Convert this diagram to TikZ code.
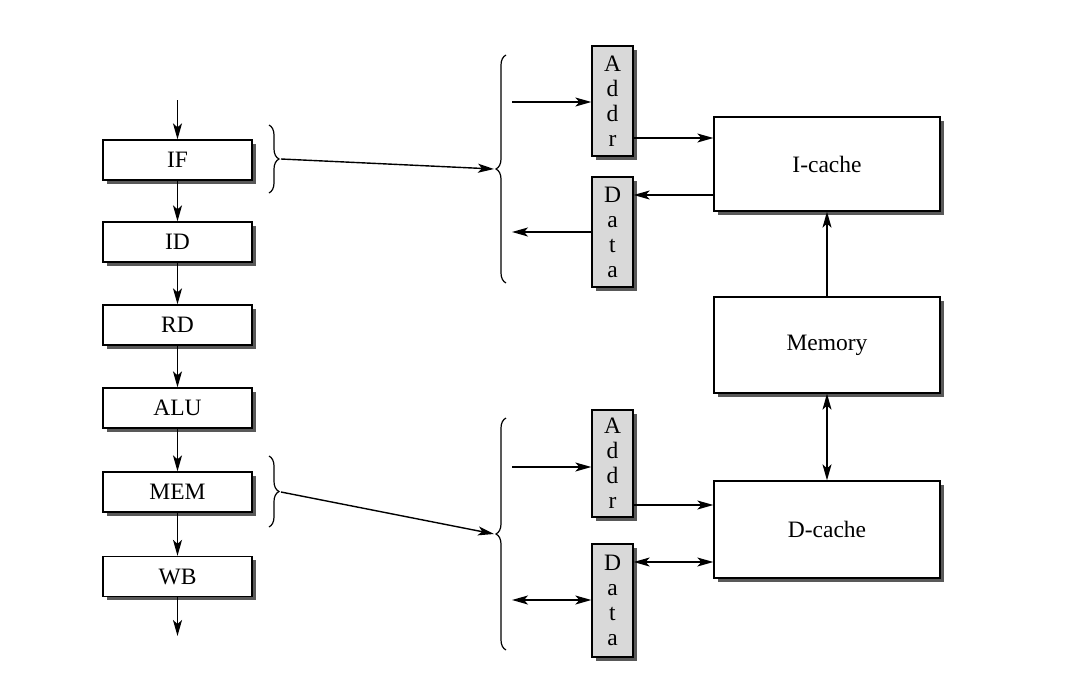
\documentclass[tikz,border=0pt]{standalone}
\usepackage{fontspec}
\setmainfont{Liberation Serif}
\usetikzlibrary{arrows.meta,shadows,decorations.pathreplacing,calc}
\begin{document}
\begin{tikzpicture}[x=1pt,y=-1pt,
  every node/.style={font=\fontsize{23.5}{25}\selectfont},
  shad/.style={drop shadow={shadow xshift=3.5pt,shadow yshift=-3.5pt,fill=black!65,opacity=1}},
  stagebox/.style={draw,line width=1.3pt,fill=white,shad,minimum width=149pt,minimum height=40pt,inner sep=0pt},
  cachebox/.style={draw,line width=1.3pt,fill=white,shad,minimum width=226pt,inner sep=0pt},
  regbox/.style={draw,line width=1.3pt,fill=black!15,shad,minimum width=41pt,inner sep=0pt,align=center},
  arr/.style={line width=1.4pt,-{Stealth[length=16pt,width=9pt,inset=4pt]}},
  darr/.style={line width=1.4pt,{Stealth[length=16pt,width=9pt,inset=4pt]}-{Stealth[length=16pt,width=9pt,inset=4pt]}},
  brc/.style={line width=1.2pt,decorate,decoration={brace,amplitude=10pt}}
]
\useasboundingbox (0,0) rectangle (1088,694);

% pipeline stages
\node[stagebox] (IF)  at (177.5,160) {IF};
\node[stagebox] (ID)  at (177.5,242) {ID};
\node[stagebox] (RD)  at (177.5,325) {RD};
\node[stagebox] (ALU) at (177.5,408) {ALU};
\node[stagebox] (MEM) at (177.5,492) {MEM};
\node[stagebox] (WB)  at (177.5,576.5) {WB};
\coordinate (top) at (177.5,100);
\coordinate (bot) at (177.5,636);
\draw[arr] (top) -- (IF);
\draw[arr] (IF) -- (ID);
\draw[arr] (ID) -- (RD);
\draw[arr] (RD) -- (ALU);
\draw[arr] (ALU) -- (MEM);
\draw[arr] (MEM) -- (WB);
\draw[arr] (WB) -- (bot);

% caches and memory
\node[cachebox,minimum height=94pt] (Ic) at (827,164) {I-cache};
\node[cachebox,minimum height=96pt] (Mem) at (827,345) {Memory};
\node[cachebox,minimum height=97pt] (Dc) at (827,529.5) {D-cache};

% registers
\node[regbox,minimum height=110pt] (A1) at (612.5,101) {A\\d\\d\\r};
\node[regbox,minimum height=110pt] (D1) at (612.5,232) {D\\a\\t\\a};
\node[regbox,minimum height=107pt] (A2) at (612.5,463.5) {A\\d\\d\\r};
\node[regbox,minimum height=113pt] (D2) at (612.5,600.5) {D\\a\\t\\a};

% braces
\draw[brc] (269,125) -- (269,193);
\coordinate (b1) at (281,159);
\draw[brc] (269,456) -- (269,527);
\coordinate (b2) at (281,492);
\draw[brc] (506,283) -- (506,55);
\coordinate (B1) at (494,169);
\draw[brc] (506,650) -- (506,418);
\coordinate (B2) at (494,534);
\draw[arr] (b1) -- (B1);
\draw[arr] (b2) -- (B2);

% register I/O
\coordinate (a1in) at (512,102);
\coordinate (d1out) at (512,232);
\coordinate (a2in) at (512,467);
\coordinate (d2io) at (512,600);
\draw[arr] (a1in) -- (A1.west |- a1in);
\draw[arr] (D1.west |- d1out) -- (d1out);
\draw[arr] (a2in) -- (A2.west |- a2in);
\draw[darr] (d2io) -- (D2.west |- d2io);

% register to cache links
\draw[arr] ($(A1.east)+(0,37)$) -- (Ic.west |- {$(A1.east)+(0,37)$});
\draw[arr] ($(Ic.west)+(0,31)$) -- (D1.east |- {$(Ic.west)+(0,31)$});
\draw[arr] ($(A2.east)+(0,41.5)$) -- (Dc.west |- {$(A2.east)+(0,41.5)$});
\draw[darr] ($(Dc.west)+(0,32.5)$) -- (D2.east |- {$(Dc.west)+(0,32.5)$});

% memory links
\draw[arr] (Mem.north) -- (Ic.south);
\draw[darr] (Mem.south) -- (Dc.north);
\end{tikzpicture}
\end{document}
